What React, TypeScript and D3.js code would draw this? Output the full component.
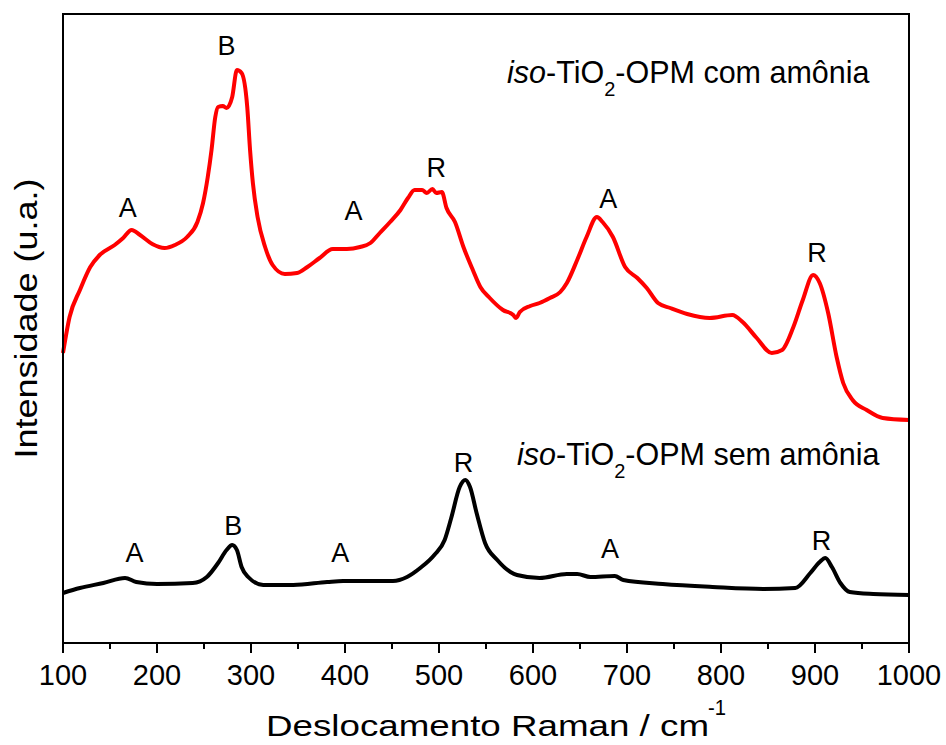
import React from "react";
import * as d3 from "d3";

// Raman shift (cm^-1) and intensity (arbitrary units)
const redShift = [100,107,118,129,139,155,164,173,182,195,208,219,232,243,249,254,258,262,265,270,274,280,285,290,296,299,302,307,315,323,336,349,360,373,387,402,416,427,437,448,459,467,474,482,487,493,497,503,508,517,526,536,544,554,568,579,582,586,597,607,618,629,636,647,657,668,674,685,698,711,721,733,746,764,788,812,823,838,854,865,877,887,898,905,914,923,930,940,955,972,1000];
const redPy = [353,317,290,267,255,245,238,230,235,244,248,245,237,222,203,177,150,117,107,106,108,97,70,73,107,150,183,217,247,265,274,273,267,258,249,249,247,243,233,222,210,198,190,190,193,189,193,192,208,222,247,270,287,298,310,315,318,312,306,303,298,292,283,260,237,217,222,237,267,278,288,303,308,314,318,315,322,338,353,350,327,300,275,283,313,357,383,400,410,418,420];
const redIntensity = redPy.map((p) => 643 - p);

const blackShift = [100,118,143,166,178,200,238,253,265,274,280,285,290,297,313,345,381,398,451,466,480,495,506,513,522,528,533,540,549,562,576,583,607,636,647,661,687,696,738,791,845,879,895,905,911,918,927,937,962,1000];
const blackPy = [593,588,583,578,582,584,583,577,563,550,545,550,567,577,585,585,582,581,581,577,568,555,540,518,487,480,487,513,543,560,572,575,578,574,574,577,576,580,584,587,589,588,573,562,558,567,583,592,594,595];
const blackIntensity = blackPy.map((p) => 643 - p);

// Peak labels: [shift, intensity at label baseline, text]
const redLabelShift = [169, 274, 409, 497, 680, 902];
const redLabelLevel = [426, 588, 423, 466, 435, 381];
const redLabelText = ["A", "B", "A", "R", "A", "R"];
const blackLabelShift = [176, 281, 395, 526, 682, 907];
const blackLabelLevel = [81, 108, 81, 171, 85, 93];
const blackLabelText = ["A", "B", "A", "R", "A", "R"];

const xTicks = [100, 200, 300, 400, 500, 600, 700, 800, 900, 1000];
const xMinorTicks = [150, 250, 350, 450, 550, 650, 750, 850, 950];

const FONT = "'Liberation Sans', Arial, sans-serif";

export default function App() {
  const W = 946, H = 745;
  const x = d3.scaleLinear().domain([100, 1000]).range([63, 909]);
  const y = d3.scaleLinear().domain([0, 629]).range([643, 14]);

  const line = d3
    .line<[number, number]>()
    .x((d) => x(d[0]))
    .y((d) => y(d[1]))
    .curve(d3.curveMonotoneX);

  const redPts = redShift.map((s, i) => [s, redIntensity[i]] as [number, number]);
  const blackPts = blackShift.map((s, i) => [s, blackIntensity[i]] as [number, number]);

  return (
    <svg
      width={W}
      height={H}
      style={{ position: "absolute", left: 0, top: 0, background: "#fff" }}
      fontFamily={FONT}
    >
      <rect x={0} y={0} width={W} height={H} fill="#fff" />
      <path d={line(blackPts) || ""} fill="none" stroke="#000" strokeWidth={4} strokeLinejoin="round" />
      <path d={line(redPts) || ""} fill="none" stroke="#ff0000" strokeWidth={4} strokeLinejoin="round" />

      {/* frame */}
      <rect x={x(100)} y={y(629)} width={x(1000) - x(100)} height={y(0) - y(629)} fill="none" stroke="#000" strokeWidth={2} />

      {/* x ticks */}
      {xTicks.map((t) => (
        <g key={"t" + t}>
          <line x1={x(t)} x2={x(t)} y1={y(0)} y2={y(0) + 10} stroke="#000" strokeWidth={2} />
          <text x={x(t)} y={685} textAnchor="middle" fontSize={29} fill="#000">
            {t}
          </text>
        </g>
      ))}
      {xMinorTicks.map((t) => (
        <line key={"m" + t} x1={x(t)} x2={x(t)} y1={y(0)} y2={y(0) + 6} stroke="#000" strokeWidth={2} />
      ))}

      {/* axis titles */}
      <text x={266} y={736} fontSize={30} textLength={443} lengthAdjust="spacingAndGlyphs" fill="#000">
        Deslocamento Raman / cm
      </text>
      <text x={708} y={715} fontSize={22} textLength={18} lengthAdjust="spacingAndGlyphs" fill="#000">
        -1
      </text>
      <text
        transform="translate(37,318.5) rotate(-90)"
        textAnchor="middle"
        fontSize={32}
        textLength={280}
        lengthAdjust="spacingAndGlyphs"
        fill="#000"
      >
        Intensidade (u.a.)
      </text>

      {/* sample labels */}
      <text x={507} y={83} fontSize={30.5} fill="#000">
        <tspan fontStyle="italic">iso</tspan>
        <tspan>-TiO</tspan>
        <tspan fontSize={20} dy={13}>2</tspan>
        <tspan dy={-13}>-OPM com amônia</tspan>
      </text>
      <text x={517} y={465} fontSize={30.5} fill="#000">
        <tspan fontStyle="italic">iso</tspan>
        <tspan>-TiO</tspan>
        <tspan fontSize={20} dy={13}>2</tspan>
        <tspan dy={-13}>-OPM sem amônia</tspan>
      </text>

      {/* peak letters */}
      {redLabelText.map((t, i) => (
        <text key={"rl" + i} x={x(redLabelShift[i])} y={y(redLabelLevel[i])} textAnchor="middle" fontSize={27} fill="#000">
          {t}
        </text>
      ))}
      {blackLabelText.map((t, i) => (
        <text key={"bl" + i} x={x(blackLabelShift[i])} y={y(blackLabelLevel[i])} textAnchor="middle" fontSize={27} fill="#000">
          {t}
        </text>
      ))}
    </svg>
  );
}
